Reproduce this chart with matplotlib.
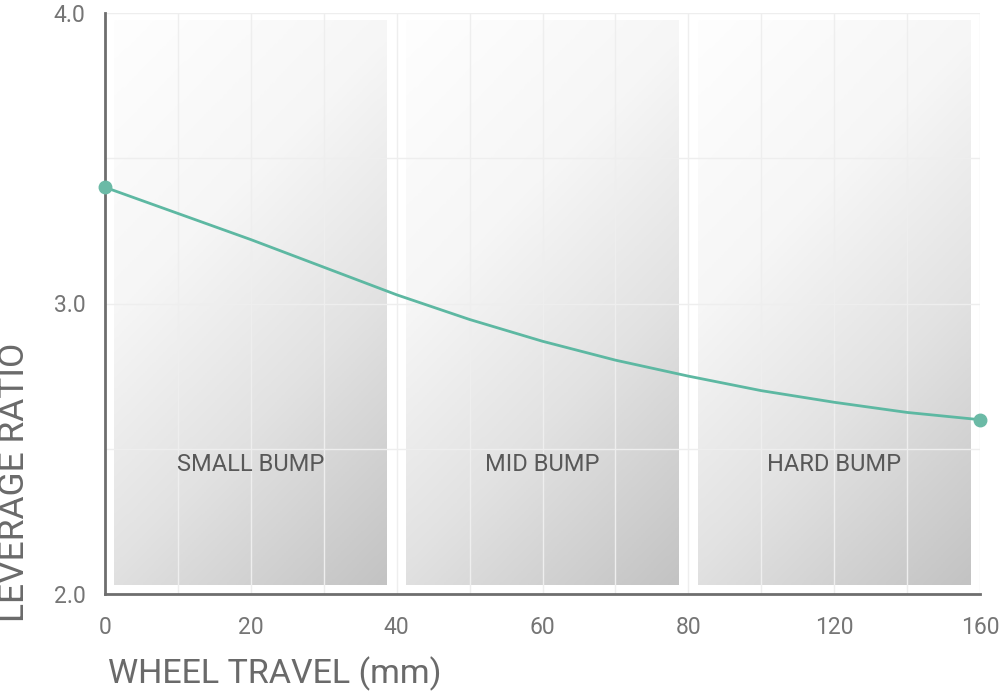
import numpy as np
import matplotlib
matplotlib.use('Agg')
import matplotlib.pyplot as plt
from matplotlib.colors import LinearSegmentedColormap

plt.rcParams['font.family'] = ['Roboto', 'DejaVu Sans']

# axis ticks (mm) - equally spaced on the chart, piecewise scale
tick_mm = [0, 20, 40, 60, 80, 120, 160]
grid_mm = [10, 20, 30, 40, 50, 60, 70, 80, 100, 120, 140, 160]

# leverage curve
travel = [0, 10, 20, 30, 40, 50, 60, 70, 80, 100, 120, 140, 160]
ratio = [3.40, 3.31, 3.22, 3.125, 3.03, 2.945, 2.87, 2.805, 2.75, 2.70, 2.66, 2.625, 2.60]

zones = ['SMALL BUMP', 'MID BUMP', 'HARD BUMP']
zone_mm = [(0, 40), (40, 80), (80, 160)]

tick_idx = np.arange(len(tick_mm))


def fwd(x):
    return np.interp(x, tick_mm, tick_idx)


def inv(x):
    return np.interp(x, tick_idx, tick_mm)


fig = plt.figure(figsize=(10, 6.92), dpi=100)
ax = fig.add_axes([0.105, 1 - 594 / 692, 0.875, (594 - 13) / 692])
ax.set_xscale('function', functions=(fwd, inv))

# gradient boxes (45 deg in pixel space, box is ~274 x 565 px)
cmap = LinearSegmentedColormap.from_list(
    'g', [(0, '#fefefe'), (0.35, '#f6f6f6'), (0.65, '#e2e2e2'), (1, '#c3c3c3')])
w_px, h_px = 274, 565
U, V = np.meshgrid(np.linspace(0, 1, 150), np.linspace(0, 1, 300))
grad = (U * w_px + V * h_px) / (w_px + h_px)
for (a, b), name in zip(zone_mm, zones):
    ia, ib = fwd(a) + 0.065, fwd(b) - 0.06
    x0, x1 = inv(ia), inv(ib)
    ax.imshow(grad, cmap=cmap, vmin=0, vmax=1, extent=(x0, x1, 2.03, 3.975),
              aspect='auto', origin='upper', zorder=0, interpolation='bilinear')
    ax.text(inv((fwd(a) + fwd(b)) / 2), 2.445, name, ha='center', va='center',
            fontsize=17, color='#585858', zorder=4)

ax.set_xlim(0, 160)
ax.set_ylim(2.0, 4.0)

# faint grid
for g in grid_mm:
    ax.axvline(g, color='#eeeeee', lw=1, zorder=1)
for g in [2.5, 3.0, 3.5, 4.0]:
    ax.axhline(g, color='#eeeeee', lw=1, zorder=1)

ax.plot(travel, ratio, color='#5db8a2', lw=2, zorder=5, clip_on=False)
ax.plot([travel[0], travel[-1]], [ratio[0], ratio[-1]], 'o', color='#6bbaa6',
        ms=9, zorder=6, clip_on=False)

for s in ['top', 'right']:
    ax.spines[s].set_visible(False)
for s in ['left', 'bottom']:
    ax.spines[s].set_color('#6e6e6e')
    ax.spines[s].set_linewidth(2)

ax.set_xticks(tick_mm)
ax.set_xticklabels([str(t) for t in tick_mm])
ax.set_yticks([2.0, 3.0, 4.0])
ax.set_yticklabels(['2.0', '3.0', '4.0'])
ax.tick_params(length=0, labelsize=16.5, labelcolor='#757575')
ax.tick_params(axis='x', pad=16)
ax.tick_params(axis='y', pad=14)
ax.xaxis.set_minor_locator(plt.NullLocator())

fig.text(0.108, 1 - 674 / 692, 'WHEEL TRAVEL (mm)', ha='left', va='center',
         fontsize=24.5, color='#6a6a6a')
fig.text(0.0145, 1 - 482 / 692, 'LEVERAGE RATIO', ha='center', va='center',
         rotation=90, fontsize=25.5, color='#6a6a6a')

fig.savefig('out.png', dpi=100)
